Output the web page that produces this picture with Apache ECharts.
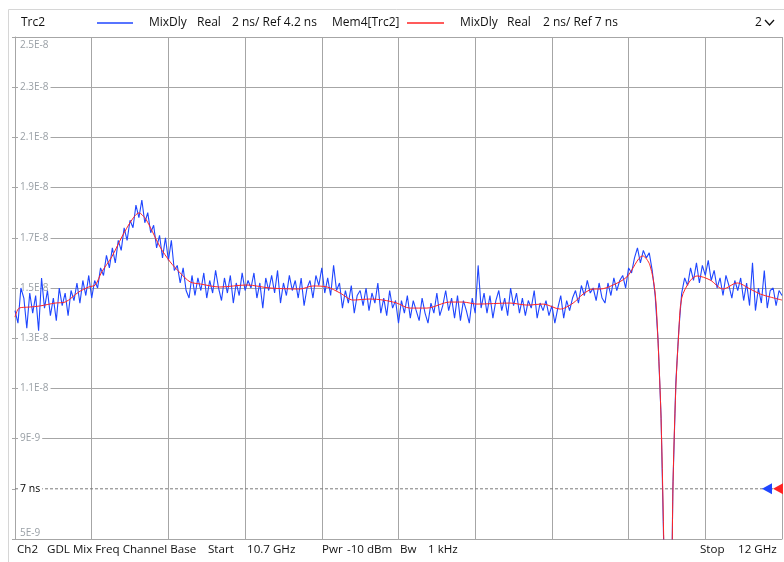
<!DOCTYPE html>
<html>
<head>
<meta charset="utf-8">
<title>Trc2 MixDly</title>
<script src="https://cdn.jsdelivr.net/npm/echarts@6/dist/echarts.min.js"></script>
<style>
    html, body { margin: 0; padding: 0; background: #fff; }
    #chart { width: 784px; height: 562px; }
</style>
</head>
<body>
<div id="chart"></div>
<script>
// 扫频设置 (GHz)
const startFreq = 10.7;
const stopFreq = 12;
// 刻度: 2 ns/div, 参考 7 ns 在第 1 格
const scaleDiv = 2;
const refValue = 7;
const refPos = 1;
const divisions = 10;

// Trc2 实测 (ns), 等间隔扫频点
const trcDelay = [
    14.1, 13.6, 15.0, 14.6, 13.4, 14.8, 14.0, 14.7, 13.3, 15.4,
    14.2, 14.9, 13.9, 14.6, 13.7, 15.0, 14.3, 14.8, 13.9, 14.9,
    14.5, 15.2, 14.4, 15.3, 14.7, 15.5, 14.6, 15.3, 15.0, 15.8,
    15.5, 16.3, 15.8, 16.6, 16.0, 16.9, 16.5, 17.4, 16.9, 17.7,
    17.4, 18.3, 17.8, 18.5, 17.6, 18.0, 17.2, 17.5, 16.6, 17.1,
    16.2, 17.0, 16.1, 16.9, 15.7, 15.9, 15.2, 15.8, 14.9, 14.6,
    15.5, 14.7, 15.4, 14.9, 15.6, 14.6, 15.3, 14.8, 15.7, 15.0,
    14.5, 15.4, 14.8, 15.5, 14.4, 15.2, 14.7, 15.6, 14.9, 15.3,
    15.0, 15.6, 14.6, 15.2, 14.2, 15.4, 14.9, 15.5, 14.8, 15.7,
    14.4, 15.2, 14.7, 15.5, 14.9, 15.3, 14.6, 15.4, 14.3, 15.0,
    15.3, 14.6, 15.5, 15.1, 15.8, 14.8, 15.4, 14.7, 15.9, 14.9,
    15.2, 14.2, 14.9, 14.4, 15.1, 14.0, 14.7, 14.9, 14.3, 15.0,
    14.1, 14.8, 14.4, 15.2, 14.0, 14.6, 13.9, 14.9, 14.2, 14.5,
    13.6, 14.5, 14.0, 14.7, 13.8, 14.5, 14.1, 13.7, 14.6, 14.0,
    13.6, 14.4, 14.0, 14.8, 13.9, 14.3, 14.9, 14.1, 14.6, 13.8,
    14.7, 13.7, 14.5, 14.1, 13.6, 14.6, 14.0, 15.9, 14.2, 14.8,
    14.0, 14.7, 13.8, 14.5, 14.9, 14.1, 14.6, 13.9, 15.0, 14.3,
    14.8, 14.0, 14.6, 13.9, 14.5, 14.2, 14.9, 13.8, 14.4, 14.1,
    14.5, 13.9, 14.3, 13.6, 14.2, 14.7, 13.8, 14.5, 14.1, 14.6,
    14.9, 14.4, 15.1, 14.7, 15.3, 14.8, 15.0, 14.5, 15.2, 14.6,
    14.4, 15.2, 14.7, 15.4, 14.9, 15.3, 15.5, 15.0, 15.8, 15.6,
    16.2, 16.6, 16.0, 16.5, 16.2, 16.4, 15.7, 14.7, 12.9, 9.9,
    4.2, -3.5, -3.0, 7.0, 11.2, 13.3, 14.8, 15.4, 15.1, 15.8,
    15.3, 16.0, 15.2, 15.9, 15.5, 16.1, 15.3, 15.7, 15.0, 15.4,
    14.7, 15.5, 15.1, 14.6, 15.3, 14.9, 15.4, 14.5, 15.2, 14.3,
    16.0, 14.1, 15.0, 14.4, 15.7, 14.2, 14.9, 15.0, 14.3, 14.9,
    14.7
];

// Mem4[Trc2] 平滑曲线
const memFreq = [
    10.700, 10.707, 10.724, 10.741, 10.768, 10.785, 10.808, 10.825, 10.836, 10.847,
    10.864, 10.881, 10.898, 10.910, 10.920, 10.929, 10.946, 10.963, 10.980, 10.997,
    11.014, 11.047, 11.093, 11.132, 11.183, 11.205, 11.229, 11.251, 11.273, 11.302,
    11.324, 11.347, 11.369, 11.398, 11.437, 11.459, 11.483, 11.539, 11.568, 11.595,
    11.624, 11.646, 11.663, 11.680, 11.692, 11.712, 11.737, 11.764, 11.776, 11.785,
    11.790, 11.795, 11.800, 11.805, 11.810, 11.815, 11.820, 11.825, 11.830, 11.844,
    11.856, 11.878, 11.900, 11.924, 11.946, 11.963, 11.980, 12.000
];
const memDelay = [
    13.84, 14.20, 14.24, 14.28, 14.40, 14.44, 14.84, 15.04, 15.12, 15.64,
    16.24, 17.03, 17.71, 17.99, 17.80, 17.43, 16.63, 16.04, 15.60, 15.24,
    15.16, 15.04, 15.12, 15.00, 14.96, 15.08, 15.04, 14.80, 14.52, 14.56,
    14.52, 14.40, 14.20, 14.20, 14.44, 14.44, 14.36, 14.40, 14.32, 14.36,
    14.16, 14.40, 14.76, 14.96, 14.96, 15.10, 15.44, 16.28, 15.92, 14.80,
    12.8, 9.8, 4.4, -3.2, -3.6, 6.8, 11.0, 13.2, 14.6, 15.28,
    15.48, 15.32, 14.96, 15.20, 14.96, 14.76, 14.64, 14.52
];

// 顶部 / 底部文字
const headerTexts = [
    ['Trc2', 21], ['MixDly', 149], ['Real', 197], ['2 ns/ Ref 4.2 ns', 232],
    ['Mem4[Trc2]', 332], ['MixDly', 460], ['Real', 507], ['2 ns/ Ref 7 ns', 543], ['2', 755]
];
const footerTexts = [
    ['Ch2', 17], ['GDL Mix Freq Channel Base', 47], ['Start', 208], ['10.7 GHz', 247],
    ['Pwr', 322], ['-10 dBm', 347], ['Bw', 400], ['1 kHz', 428], ['Stop', 700], ['12 GHz', 738]
];

const blueColor = '#1f46ff';
const redColor = '#ff2424';
const gridColor = '#a6a6a6';
const labelColor = '#9aa0a6';
const font = 'Open Sans';

const n = trcDelay.length;
const trcData = trcDelay.map((v, i) => [startFreq + i * (stopFreq - startFreq) / (n - 1), v]);
const memData = memFreq.map((f, i) => [f, memDelay[i]]);

// 刻度标签, 例: 2.5E-8
function fmtSec(ns) {
    const s = ns * 1e-9;
    const e = Math.floor(Math.log10(s) + 1e-9);
    const m = parseFloat((s / Math.pow(10, e)).toPrecision(3));
    return m + 'E' + e;
}
function divLabel(v) {
    const ns = refValue + (v - refPos) * scaleDiv;
    if (v === refPos) return '{ref|' + ns + ' ns}';
    if (v === divisions) return '{top|' + fmtSec(ns) + '}';
    if (v === 0) return '{bot|' + fmtSec(ns) + '}';
    return '{m|' + fmtSec(ns) + '}';
}

const splitColors = [];
for (let k = 0; k <= divisions; k++) {
    splitColors.push(k === refPos ? 'rgba(0,0,0,0)' : gridColor);
}

const graphic = [
    {
        type: 'rect', left: 6, top: 7, silent: true,
        shape: { x: 0, y: 0, width: 800, height: 600 },
        style: { fill: 'none', stroke: '#d6d6d6', lineWidth: 1 }
    },
    { type: 'line', shape: { x1: 97, y1: 23, x2: 133, y2: 23 }, style: { stroke: blueColor, lineWidth: 1.5 } },
    { type: 'line', shape: { x1: 407, y1: 23, x2: 444, y2: 23 }, style: { stroke: redColor, lineWidth: 1.5 } },
    { type: 'polyline', shape: { points: [[765, 20], [769.5, 25], [774, 20]] }, style: { stroke: '#111', lineWidth: 1.3, fill: 'none' } }
];
headerTexts.forEach(([t, x]) => {
    graphic.push({ type: 'text', x: x, y: 23, style: { text: t, fill: '#111', font: '12px "' + font + '"', verticalAlign: 'middle' } });
});
footerTexts.forEach(([t, x]) => {
    graphic.push({ type: 'text', x: x, y: 550, style: { text: t, fill: '#111', font: '11.6px "' + font + '"', verticalAlign: 'middle' } });
});

const chart = echarts.init(document.getElementById('chart'));
const option = {
    animation: false,
    backgroundColor: '#fff',
    textStyle: { fontFamily: font },
    grid: { left: 15, right: 2, top: 37, bottom: 23, containLabel: false, outerBoundsMode: 'none' },
    graphic: graphic,
    xAxis: [
        // 数据轴
        { type: 'value', min: startFreq, max: stopFreq, show: false, position: 'top' },
        // 网格 10 格
        {
            type: 'value', min: 0, max: divisions, interval: 1, position: 'bottom',
            axisLine: { show: true, lineStyle: { color: gridColor } },
            axisTick: { show: false },
            axisLabel: { show: false },
            splitLine: { show: true, lineStyle: { color: gridColor, width: 1 } }
        }
    ],
    yAxis: [
        { type: 'value', min: refValue - refPos * scaleDiv, max: refValue + (divisions - refPos) * scaleDiv, show: false, position: 'right' },
        {
            type: 'value', min: 0, max: divisions, interval: 1, position: 'left',
            axisLine: { show: true, lineStyle: { color: gridColor } },
            axisTick: { show: true, inside: false, length: 3, lineStyle: { color: gridColor } },
            axisLabel: { show: false },
            splitLine: { show: true, lineStyle: { color: splitColors, width: 1 } }
        },
        {
            type: 'value', min: 0, max: divisions, interval: 1, position: 'left', z: 2,
            axisLine: { show: false },
            axisTick: { show: false },
            splitLine: { show: false },
            axisLabel: {
                inside: true,
                margin: 3,
                fontFamily: font,
                fontSize: 10,
                formatter: divLabel,
                rich: {
                    m: { color: labelColor, fontSize: 10, backgroundColor: '#fff', padding: [1, 2] },
                    ref: { color: '#000', fontSize: 10.5, backgroundColor: '#fff', padding: [1, 2] },
                    top: { color: labelColor, fontSize: 10, padding: [16, 2, 0, 2] },
                    bot: { color: labelColor, fontSize: 10, padding: [0, 2, 12, 2] }
                }
            }
        }
    ],
    series: [
        {
            // 参考线 7 ns
            name: 'ref', type: 'line', xAxisIndex: 1, yAxisIndex: 1, z: 1, silent: true,
            data: [[0, refPos], [divisions, refPos]],
            symbol: 'none',
            lineStyle: { color: '#7a7a7a', width: 1, type: [3, 2] }
        },
        {
            name: 'Trc2', type: 'line', xAxisIndex: 0, yAxisIndex: 0, z: 3,
            data: trcData,
            showSymbol: false,
            lineStyle: { color: blueColor, width: 1.1 },
            markPoint: {
                silent: true,
                label: { show: false },
                data: [{
                    coord: [stopFreq, refValue], symbol: 'triangle', symbolRotate: 90,
                    symbolSize: [11, 10], symbolOffset: [-15, 0], itemStyle: { color: blueColor }
                }]
            }
        },
        {
            name: 'Mem4[Trc2]', type: 'line', xAxisIndex: 0, yAxisIndex: 0, z: 4,
            data: memData,
            showSymbol: false,
            smooth: 0.3,
            lineStyle: { color: redColor, width: 1 },
            markPoint: {
                silent: true,
                label: { show: false },
                data: [{
                    coord: [stopFreq, refValue], symbol: 'triangle', symbolRotate: 90,
                    symbolSize: [11, 10], symbolOffset: [-4, 0], itemStyle: { color: redColor }
                }]
            }
        }
    ]
};
chart.setOption(option);
</script>
</body>
</html>
